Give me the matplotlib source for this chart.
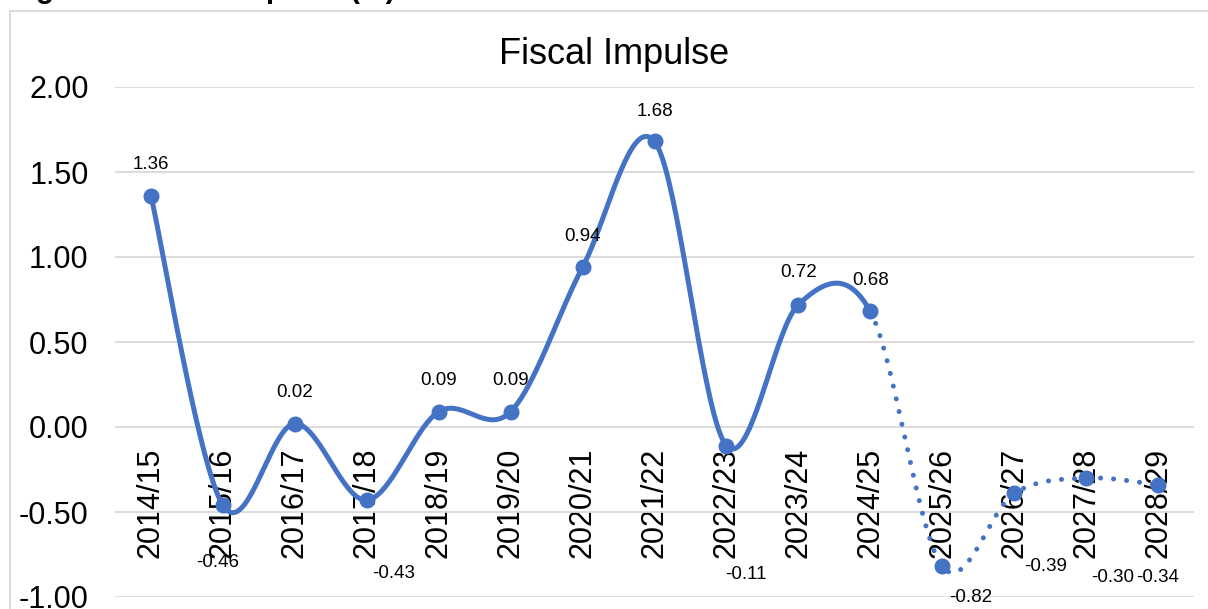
import numpy as np
import matplotlib.pyplot as plt
from matplotlib.patches import Rectangle
from matplotlib.ticker import FormatStrFormatter

plt.rcParams['font.family'] = ['Liberation Sans', 'DejaVu Sans']
plt.rcParams['axes.unicode_minus'] = False

# 財政年度與財政衝擊 (%)
years = ['2014/15', '2015/16', '2016/17', '2017/18', '2018/19', '2019/20', '2020/21',
         '2021/22', '2022/23', '2023/24', '2024/25', '2025/26', '2026/27', '2027/28',
         '2028/29']
impulse = [1.36, -0.46, 0.02, -0.43, 0.09, 0.09, 0.94, 1.68, -0.11, 0.72, 0.68,
           -0.82, -0.39, -0.30, -0.34]
last_outturn = 10  # 2024/25 之後為預測值，用虛線

# 數據標籤的偏移量 (像素)
label_dx = [0, -5, 0, 27, 0, 0, 0, 0, 19, 0, 0, 28, 31, 27, 0]
label_dy = [31, -57, 31, -73, 31, 31, 31, 30, -129, 32, 31, -31, -73, -100, -93]

BLUE = '#4472C4'
GRID = '#D9D9D9'


def smooth_segments(y, n=40):
    """仿 Excel 平滑線：每段用三次 Bezier 連接相鄰兩點"""
    x = np.arange(len(y), dtype=float)
    y = np.asarray(y, dtype=float)
    px = np.concatenate([[x[0]], x, [x[-1]]])
    py = np.concatenate([[y[0]], y, [y[-1]]])
    pts = np.column_stack([px, py])
    t = np.linspace(0, 1, n)[:, None]
    segs = []
    for i in range(len(y) - 1):
        p0, p1, p2, p3 = pts[i], pts[i + 1], pts[i + 2], pts[i + 3]
        c1 = p1 + (p2 - p0) / 6
        c2 = p2 - (p3 - p1) / 6
        seg = ((1 - t) ** 3 * p1 + 3 * (1 - t) ** 2 * t * c1
               + 3 * (1 - t) * t ** 2 * c2 + t ** 3 * p2)
        segs.append(seg)
    return segs


fig = plt.figure(figsize=(12.08, 6.09), dpi=100)
ax = fig.add_axes([115 / 1208, 1 - 597 / 609, (1194 - 115) / 1208, (597 - 87) / 609])

segs = smooth_segments(impulse)
solid = np.vstack(segs[:last_outturn])
dotted = np.vstack(segs[last_outturn:])
ax.plot(solid[:, 0], solid[:, 1], color=BLUE, lw=3.6, solid_capstyle='round', zorder=3)
ax.plot(dotted[:, 0], dotted[:, 1], color=BLUE, lw=3.6, linestyle=(0, (0.01, 2.6)),
        dash_capstyle='round', zorder=3)
ax.plot(range(len(impulse)), impulse, linestyle='none', marker='o', markersize=10.5,
        color=BLUE, zorder=4)

for i, v in enumerate(impulse):
    ax.annotate(f'{v:.2f}', (i, v), xytext=(label_dx[i], label_dy[i]),
                textcoords='offset pixels', ha='center', va='center', fontsize=13.5,
                color='#000000', zorder=5)

# x 軸放在 0 的位置，標籤直排
ax.spines['bottom'].set_position(('data', 0))
for s in ax.spines.values():
    s.set_visible(False)

ax.set_xlim(-0.5, len(years) - 0.5)
ax.set_ylim(-1.0, 2.0)
ax.set_yticks(np.arange(-1.0, 2.01, 0.5))
ax.yaxis.set_major_formatter(FormatStrFormatter('%.2f'))
ax.set_xticks(range(len(years)))
ax.set_xticklabels(years)
ax.tick_params(axis='x', length=0, pad=15, labelsize=22, labelrotation=90)
ax.tick_params(axis='y', length=0, pad=19, labelsize=22)
for lbl in ax.get_xticklabels():
    lbl.set_va('top')
    lbl.set_ha('center')
ax.grid(axis='y', color=GRID, lw=1.3)
ax.set_axisbelow(True)

fig.text(614 / 1208, 1 - 55 / 609, 'Fiscal Impulse', ha='center', va='center', fontsize=26)

# 圖表外框與上方圖題
fig.patches.append(Rectangle((10 / 1208, -0.1), 1.2, 1 - 11 / 609 + 0.1,
                             transform=fig.transFigure, fill=False,
                             edgecolor=GRID, lw=1.3, zorder=0))
fig.text(10 / 1208, 1 + 2 / 609, 'Figure 1: Fiscal Impulse (%)', ha='left', va='baseline',
         fontsize=21, fontweight='bold')

fig.savefig('out.png', dpi=100)
